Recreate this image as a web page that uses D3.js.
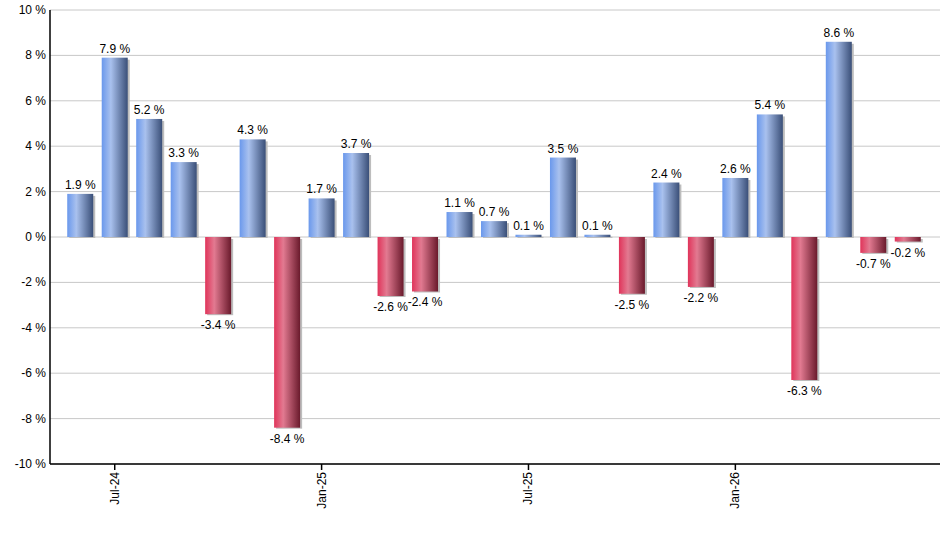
<!DOCTYPE html>
<html>
<head>
<meta charset="utf-8">
<script src="https://cdn.jsdelivr.net/npm/d3@7"></script>
<style>
  body { margin: 0; background: #fff; }
  text { font-family: "Liberation Sans", Arial, sans-serif; }
</style>
</head>
<body>
<div id="container"></div>
<script>
// data
const months = ["Jun-24","Jul-24","Aug-24","Sep-24","Oct-24","Nov-24","Dec-24",
  "Jan-25","Feb-25","Mar-25","Apr-25","May-25","Jun-25","Jul-25","Aug-25","Sep-25",
  "Oct-25","Nov-25","Dec-25","Jan-26","Feb-26","Mar-26","Apr-26","May-26","Jun-26"]
const returns = [1.9, 7.9, 5.2, 3.3, -3.4, 4.3, -8.4, 1.7, 3.7, -2.6, -2.4, 1.1, 0.7,
  0.1, 3.5, 0.1, -2.5, 2.4, -2.2, 2.6, 5.4, -6.3, 8.6, -0.7, -0.2]
const xTickLabels = ["Jul-24", "Jan-25", "Jul-25", "Jan-26"]
const yTicks = [-10, -8, -6, -4, -2, 0, 2, 4, 6, 8, 10]

const width = 940, height = 550
const margin = { top: 10, right: 2, bottom: 86, left: 50 }

const svg = d3.select("#container").append("svg")
  .attr("width", width)
  .attr("height", height)

const defs = svg.append("defs")
function grad(id, c1, c2, c3) {
  const g = defs.append("linearGradient").attr("id", id)
    .attr("x1", "0%").attr("x2", "100%").attr("y1", "0%").attr("y2", "0%")
  g.append("stop").attr("offset", "0%").attr("stop-color", c1)
  g.append("stop").attr("offset", "35%").attr("stop-color", c2)
  g.append("stop").attr("offset", "100%").attr("stop-color", c3)
}
grad("gBlue", "#6a98ec", "#a9c1ee", "#3a4f78")
grad("gRed", "#e0345a", "#e27a91", "#6a1a2c")

const x = d3.scaleBand()
  .domain(months)
  .range([margin.left, width - margin.right])
  .paddingInner(0.246)
  .paddingOuter(0.5)

const y = d3.scaleLinear()
  .domain([-10, 10])
  .range([height - margin.bottom, margin.top])

// gridlines
svg.append("g")
  .selectAll("line")
  .data(yTicks)
  .join("line")
  .attr("x1", margin.left)
  .attr("x2", width)
  .attr("y1", d => y(d))
  .attr("y2", d => y(d))
  .attr("stroke", "#c8c8c8")
  .attr("stroke-width", 1)

// y axis labels
svg.append("g")
  .selectAll("text")
  .data(yTicks)
  .join("text")
  .attr("x", margin.left - 4)
  .attr("y", d => y(d) + 4)
  .attr("text-anchor", "end")
  .attr("font-size", 12)
  .text(d => d + " %")

// bar shadows
svg.append("g")
  .selectAll("rect")
  .data(returns)
  .join("rect")
  .attr("x", (d, i) => x(months[i]) + 2)
  .attr("y", d => Math.min(y(d), y(0)) + 2)
  .attr("width", x.bandwidth())
  .attr("height", d => Math.max(Math.abs(y(d) - y(0)) - 1, 0))
  .attr("fill", "#bdbdbd")

// bars
svg.append("g")
  .selectAll("rect")
  .data(returns)
  .join("rect")
  .attr("x", (d, i) => x(months[i]))
  .attr("y", d => Math.min(y(d), y(0)))
  .attr("width", x.bandwidth())
  .attr("height", d => Math.max(Math.abs(y(d) - y(0)), 1))
  .attr("fill", d => d >= 0 ? "url(#gBlue)" : "url(#gRed)")

// value labels
svg.append("g")
  .selectAll("text")
  .data(returns)
  .join("text")
  .attr("x", (d, i) => x(months[i]) + x.bandwidth() / 2)
  .attr("y", d => d >= 0 ? y(d) - 5 : y(d) + 15)
  .attr("text-anchor", "middle")
  .attr("font-size", 12)
  .text(d => d.toFixed(1) + " %")

// axes lines
svg.append("line")
  .attr("x1", margin.left).attr("x2", margin.left)
  .attr("y1", y(10)).attr("y2", y(-10))
  .attr("stroke", "#000").attr("stroke-width", 1.5)
svg.append("line")
  .attr("x1", margin.left).attr("x2", width)
  .attr("y1", y(-10)).attr("y2", y(-10))
  .attr("stroke", "#000").attr("stroke-width", 1.5)

// x ticks
const xt = svg.append("g")
  .selectAll("g")
  .data(xTickLabels)
  .join("g")
  .attr("transform", d => `translate(${x(d) + x.bandwidth() / 2}, ${y(-10)})`)
xt.append("line").attr("y2", 6).attr("stroke", "#000").attr("stroke-width", 1.5)
xt.append("text")
  .attr("transform", "rotate(-90)")
  .attr("x", -8)
  .attr("y", 4)
  .attr("text-anchor", "end")
  .attr("font-size", 12)
  .text(d => d)
</script>
</body>
</html>
